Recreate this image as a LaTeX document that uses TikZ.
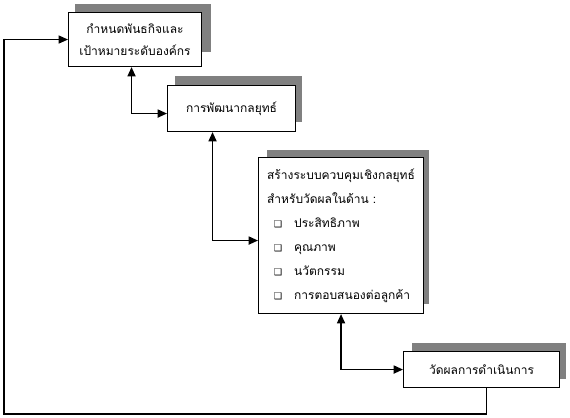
\documentclass[tikz,border=0pt]{standalone}
\usepackage{fontspec}
\newfontfamily\thaifont[Script=Thai]{Loma}
\newfontfamily\symfont{DejaVu Sans}
\usetikzlibrary{arrows.meta,calc}
\tikzset{
  box/.style={draw=black, line width=0.8pt, fill=white, anchor=north west, inner sep=0pt, align=center,
    font=\thaifont\fontsize{9}{17}\selectfont},
  shadowbox/.style={fill=black!50},
  link/.style={line width=1.3pt, {Triangle[length=7pt,width=6pt]}-{Triangle[length=7pt,width=6pt]}},
  fback/.style={line width=0.9pt, -{Triangle[length=7pt,width=6pt]}},
}
\newcommand{\bul}{{\symfont\fontsize{7}{7}\selectfont ❑}\hspace{9pt}}
\begin{document}
\begin{tikzpicture}[x=0.75pt,y=-0.75pt]
\useasboundingbox (0,0) rectangle (570,417);
% shadows
\fill[shadowbox] (75,4) rectangle (211,52);
\fill[shadowbox] (175,76) rectangle (302,122);
\fill[shadowbox] (267,150) rectangle (429,304);
\fill[shadowbox] (412,343) rectangle (566,379);
% boxes
\node[box, minimum width=99.75pt, minimum height=40.5pt] (b1) at (68,12) {กำหนดพันธกิจและ\\เป้าหมายระดับองค์กร};
\node[box, minimum width=96pt, minimum height=34.5pt] (b2) at (167,85) {การพัฒนากลยุทธ์};
\node[box, minimum width=123.75pt, minimum height=117pt, font=\thaifont\fontsize{9}{18}\selectfont, align=left] (b3) at (258,157)
  {สร้างระบบควบคุมเชิงกลยุทธ์\\สำหรับวัดผลในด้าน :\\\hspace*{5pt}\bul ประสิทธิภาพ\\\hspace*{5pt}\bul คุณภาพ\\\hspace*{5pt}\bul นวัตกรรม\\\hspace*{5pt}\bul การตอบสนองต่อลูกค้า};
\node[box, minimum width=117pt, minimum height=27pt] (b4) at (403,351) {วัดผลการดำเนินการ};
% connectors
\draw[link] ($(b1.south)+(-3.5,0)$) |- ($(b2.west)+(0,5)$);
\draw[link] ($(b2.south)+(-19,0)$) |- ($(b3.west)+(0,5)$);
\draw[link] (b3.south) |- (b4.west);
\coordinate (c1) at (4,414);
\draw[fback] ($(b4.south)+(5,0)$) |- (c1) |- (b1.west);
\end{tikzpicture}
\end{document}
